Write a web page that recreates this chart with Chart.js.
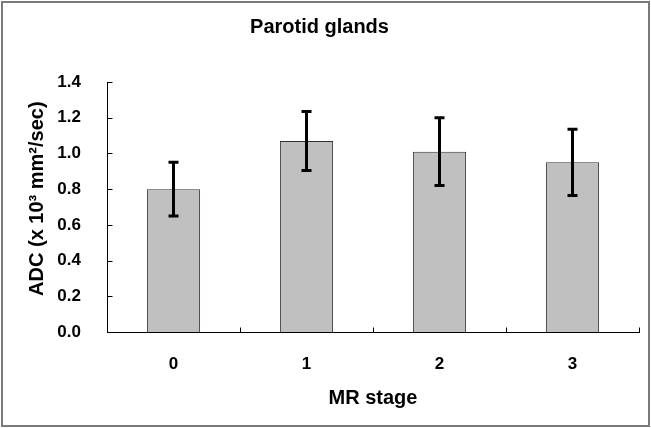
<!DOCTYPE html>
<html>
<head>
<meta charset="utf-8">
<script src="https://cdn.jsdelivr.net/npm/chart.js@4.4.0/dist/chart.umd.min.js"></script>
<style>
html, body { margin: 0; padding: 0; background: #fff; }
</style>
</head>
<body>
<canvas id="adc" width="651" height="428"></canvas>
<script>
var stages = ['0', '1', '2', '3'];
var adcMean = [0.80, 1.07, 1.01, 0.95];
var adcSD = [0.15, 0.165, 0.19, 0.185];
var yMin = 0, yMax = 1.4, yStep = 0.2;

var fontFam = '"Liberation Sans", Arial, sans-serif';

// error bars, inward tick marks and the outer frame
var extras = {
  id: 'extras',
  afterDatasetsDraw: function (chart) {
    var ctx = chart.ctx;
    var x = chart.scales.x, y = chart.scales.y;
    var meta = chart.getDatasetMeta(0);
    ctx.save();
    ctx.strokeStyle = '#000';
    ctx.lineWidth = 3;
    meta.data.forEach(function (bar, i) {
      var top = y.getPixelForValue(adcMean[i] + adcSD[i]);
      var bot = y.getPixelForValue(adcMean[i] - adcSD[i]);
      ctx.beginPath();
      ctx.moveTo(bar.x, top); ctx.lineTo(bar.x, bot);
      ctx.moveTo(bar.x - 5, top); ctx.lineTo(bar.x + 5, top);
      ctx.moveTo(bar.x - 5, bot); ctx.lineTo(bar.x + 5, bot);
      ctx.stroke();
    });

    ctx.lineWidth = 1;
    ctx.beginPath();
    var left = Math.round(chart.chartArea.left) + 0.5;
    y.ticks.forEach(function (t) {
      var py = Math.round(y.getPixelForValue(t.value)) + 0.5;
      ctx.moveTo(left, py); ctx.lineTo(left + 5, py);
    });
    var half = (x.right - x.left) / stages.length / 2;
    var bottom = Math.round(chart.chartArea.bottom) + 0.5;
    stages.forEach(function (s, i) {
      var px = Math.round(x.getPixelForValue(i) + half) + 0.5;
      ctx.moveTo(px, bottom); ctx.lineTo(px, bottom - 5);
    });
    ctx.stroke();
    ctx.restore();
  },
  afterDraw: function (chart) {
    var ctx = chart.ctx;
    ctx.save();
    ctx.strokeStyle = '#7a7a7a';
    ctx.lineWidth = 2;
    ctx.strokeRect(2, 2, chart.width - 4, chart.height - 4);
    ctx.restore();
  }
};

new Chart(document.getElementById('adc'), {
  type: 'bar',
  data: {
    labels: stages,
    datasets: [{
      data: adcMean,
      backgroundColor: '#c0c0c0',
      borderColor: '#333',
      borderWidth: 1,
      barPercentage: 0.4,
      categoryPercentage: 1.0
    }]
  },
  options: {
    responsive: false,
    animation: false,
    layout: { padding: { top: 0, right: 12, bottom: 0, left: 0 } },
    plugins: {
      legend: { display: false },
      tooltip: { enabled: false },
      title: {
        display: true,
        text: 'Parotid glands',
        color: '#000',
        font: { family: fontFam, size: 20, weight: 'bold' },
        padding: { top: 15, bottom: 43 }
      }
    },
    scales: {
      x: {
        grid: { display: false, drawTicks: false },
        border: { display: true, color: '#000', width: 1 },
        ticks: { color: '#000', padding: 22, font: { family: fontFam, size: 17, weight: 'bold' } },
        title: {
          display: true,
          text: 'MR stage',
          color: '#000',
          font: { family: fontFam, size: 20, weight: 'bold' },
          padding: { top: 0, bottom: 18 }
        },
        afterFit: function (s) { s.height = 96; }
      },
      y: {
        min: yMin,
        max: yMax,
        grid: { display: false, drawTicks: false },
        border: { display: true, color: '#000', width: 1 },
        ticks: {
          stepSize: yStep,
          color: '#000',
          padding: 26,
          font: { family: fontFam, size: 17, weight: 'bold' },
          callback: function (v) { return v.toFixed(1); }
        },
        title: {
          display: true,
          text: '   ADC (x 10\u00B3 mm\u00B2/sec)',
          color: '#000',
          font: { family: fontFam, size: 20, weight: 'bold' },
          padding: { top: 25, bottom: 0 }
        },
        afterFit: function (s) { s.width = 107; }
      }
    }
  },
  plugins: [extras]
});
</script>
</body>
</html>
